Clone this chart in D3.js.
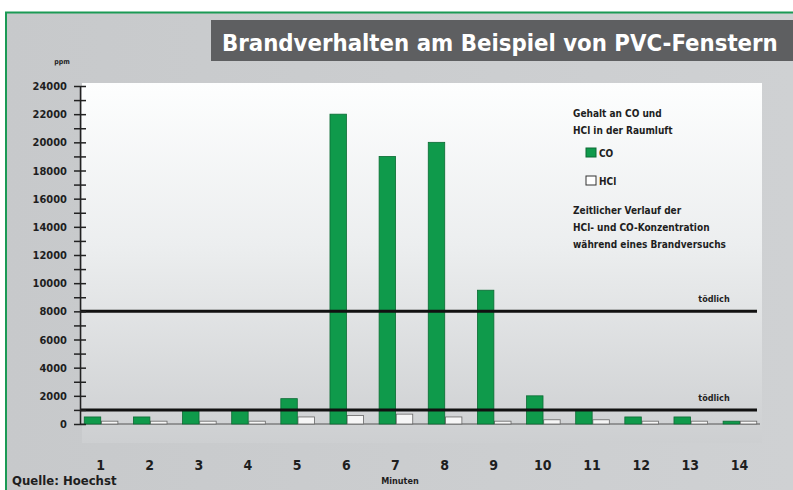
<!DOCTYPE html>
<html>
<head>
<meta charset="utf-8">
<script src="https://cdn.jsdelivr.net/npm/d3@7/dist/d3.min.js"></script>
<style>
  html, body { margin: 0; padding: 0; background: #fff; }
  svg { display: block; }
  text { font-family: "DejaVu Sans Condensed", "DejaVu Sans", sans-serif; font-stretch: condensed; }
</style>
</head>
<body>
<svg id="chart" width="793" height="490"></svg>
<script>
// Brandverhalten am Beispiel von PVC-Fenstern: CO and HCl (ppm) per minute
var minutes = [1, 2, 3, 4, 5, 6, 7, 8, 9, 10, 11, 12, 13, 14];
var co  = [500, 500, 1000, 1000, 1800, 22000, 19000, 20000, 9500, 2000, 1000, 500, 500, 200];
var hcl = [200, 200, 200, 200, 500, 600, 700, 500, 200, 300, 300, 200, 200, 200];
var yTicks = [0, 2000, 4000, 6000, 8000, 10000, 12000, 14000, 16000, 18000, 20000, 22000, 24000];
var thresholds = [8000, 1000];
var legendHead = ["Gehalt an CO und", "HCl in der Raumluft"];
var legendNote = ["Zeitlicher Verlauf der", "HCl- und CO-Konzentration", "während eines Brandversuchs"];

(function () {
  "use strict";
  var svg = d3.select("#chart");
  var C = { green: "#0f9a4b", frame: "#1b9a55", title: "#5e5f61", ink: "#1e1e1e" };

  var defs = svg.append("defs");
  var gBg = defs.append("linearGradient").attr("id", "bgGrad").attr("x1", 0).attr("x2", 1).attr("y1", 0).attr("y2", 0);
  gBg.append("stop").attr("offset", "0%").attr("stop-color", "#c7c9cb");
  gBg.append("stop").attr("offset", "100%").attr("stop-color", "#cfd1d3");
  var gPanel = defs.append("linearGradient").attr("id", "panelGrad").attr("x1", 0).attr("x2", 0).attr("y1", 0).attr("y2", 1);
  gPanel.append("stop").attr("offset", "0%").attr("stop-color", "#fdfefe");
  gPanel.append("stop").attr("offset", "45%").attr("stop-color", "#eceeef");
  gPanel.append("stop").attr("offset", "100%").attr("stop-color", "#cdcfd1");

  // background + frame
  svg.append("rect").attr("x", 6).attr("y", 13).attr("width", 787).attr("height", 477).attr("fill", "url(#bgGrad)");
  svg.append("line").attr("x1", 5).attr("x2", 793).attr("y1", 12.5).attr("y2", 12.5)
    .attr("stroke", C.frame).attr("stroke-width", 2);
  svg.append("line").attr("x1", 6).attr("x2", 6).attr("y1", 12).attr("y2", 490)
    .attr("stroke", C.frame).attr("stroke-width", 2);

  // title box; font size fitted to the box width
  svg.append("rect").attr("x", 211).attr("y", 20).attr("width", 582).attr("height", 41).attr("fill", C.title);
  var title = svg.append("text").attr("x", 222).attr("y", 51).attr("fill", "#fff")
    .style("font-size", "26px").style("font-weight", "bold")
    .text("Brandverhalten am Beispiel von PVC-Fenstern");
  var tw = title.node().getComputedTextLength();
  if (tw > 556) title.style("font-size", (26 * 556 / tw).toFixed(2) + "px");

  // plot panel
  svg.append("rect").attr("x", 82).attr("y", 83).attr("width", 680).attr("height", 360).attr("fill", "url(#panelGrad)");

  var M = { l: 80, r: 760, t: 86, b: 424 };
  var y = d3.scaleLinear().domain([0, 24000]).range([M.b, M.t]);
  var x0 = d3.scaleBand().domain(minutes).range([77, 765]).paddingInner(0).paddingOuter(0);
  var x1 = d3.scaleBand().domain(["co", "hcl"]).range([x0.bandwidth() / 2 - 18, x0.bandwidth() / 2 + 17]).padding(0.04);

  // x baseline
  svg.append("line").attr("x1", M.l).attr("x2", M.r).attr("y1", y(0)).attr("y2", y(0))
    .attr("stroke", "#555").attr("stroke-width", 1.2);

  // bars
  var gB = svg.append("g");
  minutes.forEach(function (m, i) {
    var bx = x0(m);
    gB.append("rect").attr("x", bx + x1("hcl")).attr("y", y(hcl[i]))
      .attr("width", x1.bandwidth()).attr("height", y(0) - y(hcl[i]))
      .attr("fill", "#f6f6f6").attr("stroke", "#666").attr("stroke-width", 0.8);
    gB.append("rect").attr("x", bx + x1("co")).attr("y", y(co[i]))
      .attr("width", x1.bandwidth()).attr("height", y(0) - y(co[i]))
      .attr("fill", C.green).attr("stroke", "#0c6b34").attr("stroke-width", 0.8);
  });

  // threshold lines
  thresholds.forEach(function (t) {
    svg.append("line").attr("x1", M.l).attr("x2", 757).attr("y1", y(t)).attr("y2", y(t))
      .attr("stroke", "#111").attr("stroke-width", 3);
    svg.append("text").attr("x", 714).attr("y", y(t) - 9).attr("text-anchor", "middle")
      .attr("fill", C.ink).style("font-size", "9px").style("font-weight", "bold")
      .text("tödlich");
  });

  // y axis
  var ax = d3.axisLeft(y).tickValues(d3.range(0, 24001, 1000)).tickSize(0).tickFormat("");
  var gy = svg.append("g").attr("transform", "translate(" + M.l + ",0)").call(ax);
  gy.select(".domain").attr("stroke", "#222").attr("stroke-width", 1.5);
  gy.selectAll(".tick").append("line").attr("x1", -6).attr("x2", 6)
    .attr("stroke", "#222").attr("stroke-width", 1.5);
  yTicks.forEach(function (v) {
    svg.append("text").attr("x", 67).attr("y", y(v) + 4).attr("text-anchor", "end")
      .attr("fill", C.ink).style("font-size", "11px").style("font-weight", "bold")
      .text(v);
  });
  svg.append("text").attr("x", 62).attr("y", 64).attr("text-anchor", "middle")
    .attr("fill", C.ink).style("font-size", "7px").style("font-weight", "bold").text("ppm");

  // x labels
  minutes.forEach(function (m) {
    svg.append("text").attr("x", x0(m) + x0.bandwidth() / 2 - 1).attr("y", 470).attr("text-anchor", "middle")
      .attr("fill", C.ink).style("font-size", "14px").style("font-weight", "bold").text(m);
  });
  svg.append("text").attr("x", 400).attr("y", 484).attr("text-anchor", "middle")
    .attr("fill", C.ink).style("font-size", "9px").style("font-weight", "bold").text("Minuten");
  svg.append("text").attr("x", 12).attr("y", 485)
    .attr("fill", C.ink).style("font-size", "13px").style("font-weight", "bold").text("Quelle: Hoechst");

  // legend
  var lg = svg.append("g").attr("fill", C.ink).style("font-size", "10px").style("font-weight", "bold");
  legendHead.forEach(function (s, i) {
    lg.append("text").attr("x", 573).attr("y", 117 + i * 17).text(s);
  });
  lg.append("rect").attr("x", 586).attr("y", 148).attr("width", 10).attr("height", 9)
    .attr("fill", C.green).attr("stroke", "#0c6b34");
  lg.append("text").attr("x", 599).attr("y", 157).text("CO");
  lg.append("rect").attr("x", 586).attr("y", 176).attr("width", 10).attr("height", 9)
    .attr("fill", "#fff").attr("stroke", "#333");
  lg.append("text").attr("x", 599).attr("y", 185).text("HCl");
  legendNote.forEach(function (s, i) {
    lg.append("text").attr("x", 573).attr("y", 214 + i * 17).text(s);
  });
})();
</script>
</body>
</html>
